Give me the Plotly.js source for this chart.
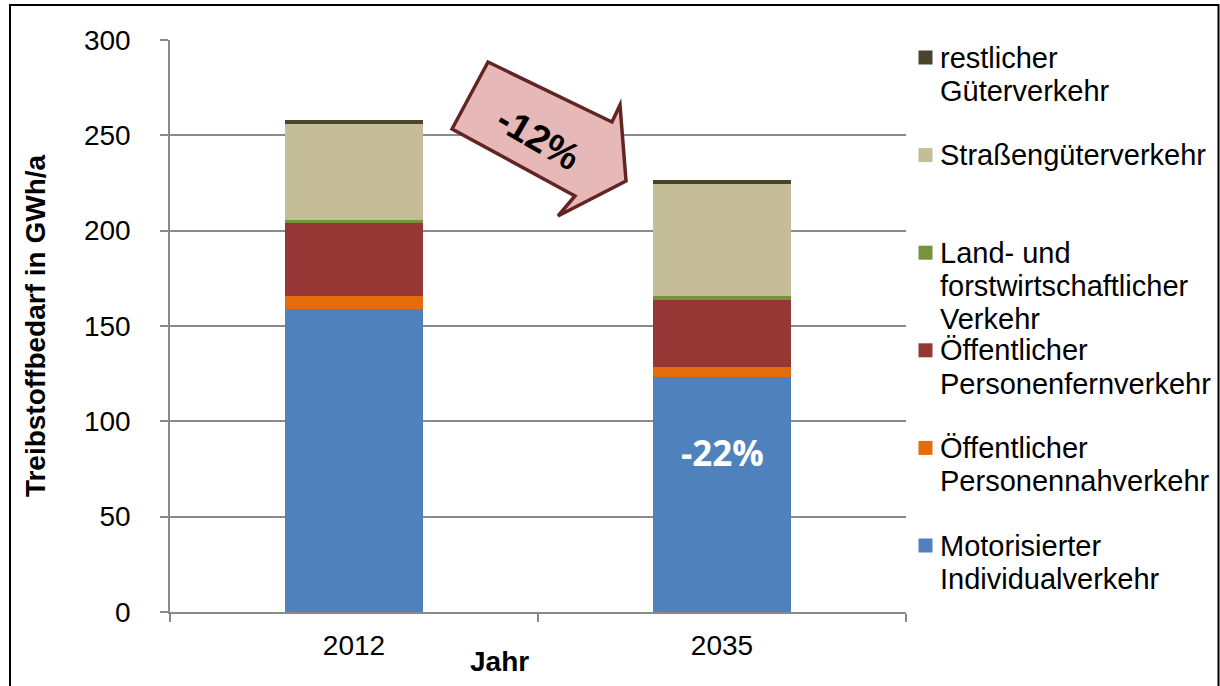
<!DOCTYPE html>
<html><head><meta charset="utf-8">
<script src="https://cdn.plot.ly/plotly-3.0.1.min.js"></script>
<style>html,body{margin:0;padding:0;background:#fff}#chart{width:1220px;height:686px}</style>
</head><body><div id="chart"></div>
<script>
// ---- data ----
const years = ['2012', '2035'];
const seriesNames = [
  'Motorisierter<br>Individualverkehr',
  'Öffentlicher<br>Personennahverkehr',
  'Öffentlicher<br>Personenfernverkehr',
  'Land- und<br>forstwirtschaftlicher<br>Verkehr',
  'Straßengüterverkehr',
  'restlicher<br>Güterverkehr'
];
const motorisierterIndividualverkehr = [158.7, 123.2];
const oeffPersonennahverkehr = [7.2, 5.4];
const oeffPersonenfernverkehr = [37.9, 35.3];
const landForstVerkehr = [1.9, 1.6];
const strassengueterverkehr = [50.4, 59.1];
const restlicherGueterverkehr = [2.1, 2.1];
const yTickVals = [0, 50, 100, 150, 200, 250, 300];
const yTitle = 'Treibstoffbedarf in GWh/a';
const xTitle = 'Jahr';
const totalChangeLabel = '-12%';
const mivChangeLabel = '-22%';

const seriesValues = [motorisierterIndividualverkehr, oeffPersonennahverkehr, oeffPersonenfernverkehr,
  landForstVerkehr, strassengueterverkehr, restlicherGueterverkehr];
const colors = ['#4F81BD', '#E46C0A', '#953735', '#77933C', '#C4BD97', '#4A452A'];

// ---- geometry of the plot area (pixels) ----
const W = 1220, H = 686;
const L = 170, R = 906, T = 40, B = 612;
const px = x => (x - L) / (R - L);
const py = y => (B - y) / (B - T);
const FONT = '"Liberation Sans", Arial, sans-serif';

const traces = seriesValues.map((vals, i) => ({
  type: 'bar',
  x: years,
  y: vals,
  name: seriesNames[i].replace(/<br>/g, ' '),
  marker: {color: colors[i], line: {width: 0}},
  showlegend: false,
  hovertemplate: '%{x}: %{y} GWh/a<extra>' + seriesNames[i].replace(/<br>/g, ' ') + '</extra>'
}));

const annotations = [];
const shapes = [];

// manual legend (top to bottom = reversed stacking order)
const legendTop = 57.5, legendStep = 97.6, lineStep = 33.3;
const order = [5, 4, 3, 2, 1, 0];
order.forEach((si, k) => {
  const yc = legendTop + k * legendStep;
  shapes.push({type: 'rect', xref: 'paper', yref: 'paper',
    x0: px(918.5), x1: px(932.5), y0: py(yc - 7), y1: py(yc + 7),
    fillcolor: colors[si], line: {width: 0}});
  seriesNames[si].split('<br>').forEach((line, j) => {
    annotations.push({xref: 'paper', yref: 'paper', x: px(938), y: py(yc + j * lineStep),
      xanchor: 'left', yanchor: 'middle', showarrow: false, text: line,
      font: {family: FONT, size: 29, color: '#000'}});
  });
});

// x axis title placed like the original
annotations.push({xref: 'paper', yref: 'paper', x: px(499), y: py(661), xanchor: 'center', yanchor: 'middle',
  showarrow: false, text: xTitle, font: {family: FONT, size: 28, color: '#000', weight: 'bold'}});

// -22% label in the 2035 blue bar (category index 1)
annotations.push({xref: 'x', yref: 'y', x: years.indexOf('2035'), y: motorisierterIndividualverkehr[1] * 0.678,
  xanchor: 'center', yanchor: 'middle', showarrow: false, text: mivChangeLabel,
  font: {family: '"Open Sans", sans-serif', size: 35, color: '#ffffff', weight: 'bold'}});

// -12% arrow
const arrowPts = [[488, 62], [612, 122], [620, 105], [626, 181], [558, 216], [575, 196], [452, 129]];
const path = arrowPts.map((p, i) => (i ? 'L' : 'M') + px(p[0]).toFixed(4) + ',' + py(p[1]).toFixed(4)).join(' ') + ' Z';
shapes.push({type: 'path', xref: 'paper', yref: 'paper', path: path,
  fillcolor: '#E6B9B8', line: {color: '#632523', width: 3.5}});
annotations.push({xref: 'paper', yref: 'paper', x: px(538), y: py(138), xanchor: 'center', yanchor: 'middle',
  showarrow: false, text: totalChangeLabel, textangle: 30,
  font: {family: FONT, size: 38, color: '#000', weight: 'bold'}});

// outer frame
shapes.push({type: 'rect', xref: 'paper', yref: 'paper', layer: 'above',
  x0: px(10), x1: px(1218.5), y0: py(700), y1: py(5),
  fillcolor: 'rgba(0,0,0,0)', line: {color: '#000', width: 2}});

const layout = {
  width: W, height: H,
  margin: {l: L, r: W - R, t: T, b: H - B, pad: 0},
  paper_bgcolor: '#fff', plot_bgcolor: '#fff',
  barmode: 'stack',
  bargap: 0.626,
  font: {family: FONT, size: 28, color: '#000'},
  xaxis: {
    type: 'category', range: [-0.5, 1.5],
    showline: true, linecolor: '#8A8A8A', linewidth: 1.5,
    ticks: 'outside', tickson: 'boundaries', ticklen: 8, tickcolor: '#8A8A8A', tickwidth: 1.5,
    showgrid: false, ticklabelstandoff: 8,
    tickfont: {family: FONT, size: 28, color: '#000'}
  },
  yaxis: {
    range: [0, 300], tickvals: yTickVals,
    showline: true, linecolor: '#8A8A8A', linewidth: 1.5,
    ticks: 'outside', ticklen: 8, tickcolor: '#8A8A8A', tickwidth: 1.5,
    showgrid: true, gridcolor: '#8A8A8A', gridwidth: 1.5, zeroline: false,
    ticklabelstandoff: 24,
    tickfont: {family: FONT, size: 28, color: '#000'},
    title: {text: yTitle, standoff: 30, font: {family: FONT, size: 28, color: '#000', weight: 'bold'}}
  },
  annotations: annotations,
  shapes: shapes
};

Plotly.newPlot('chart', traces, layout, {displayModeBar: false, responsive: false});
</script>
</body></html>
